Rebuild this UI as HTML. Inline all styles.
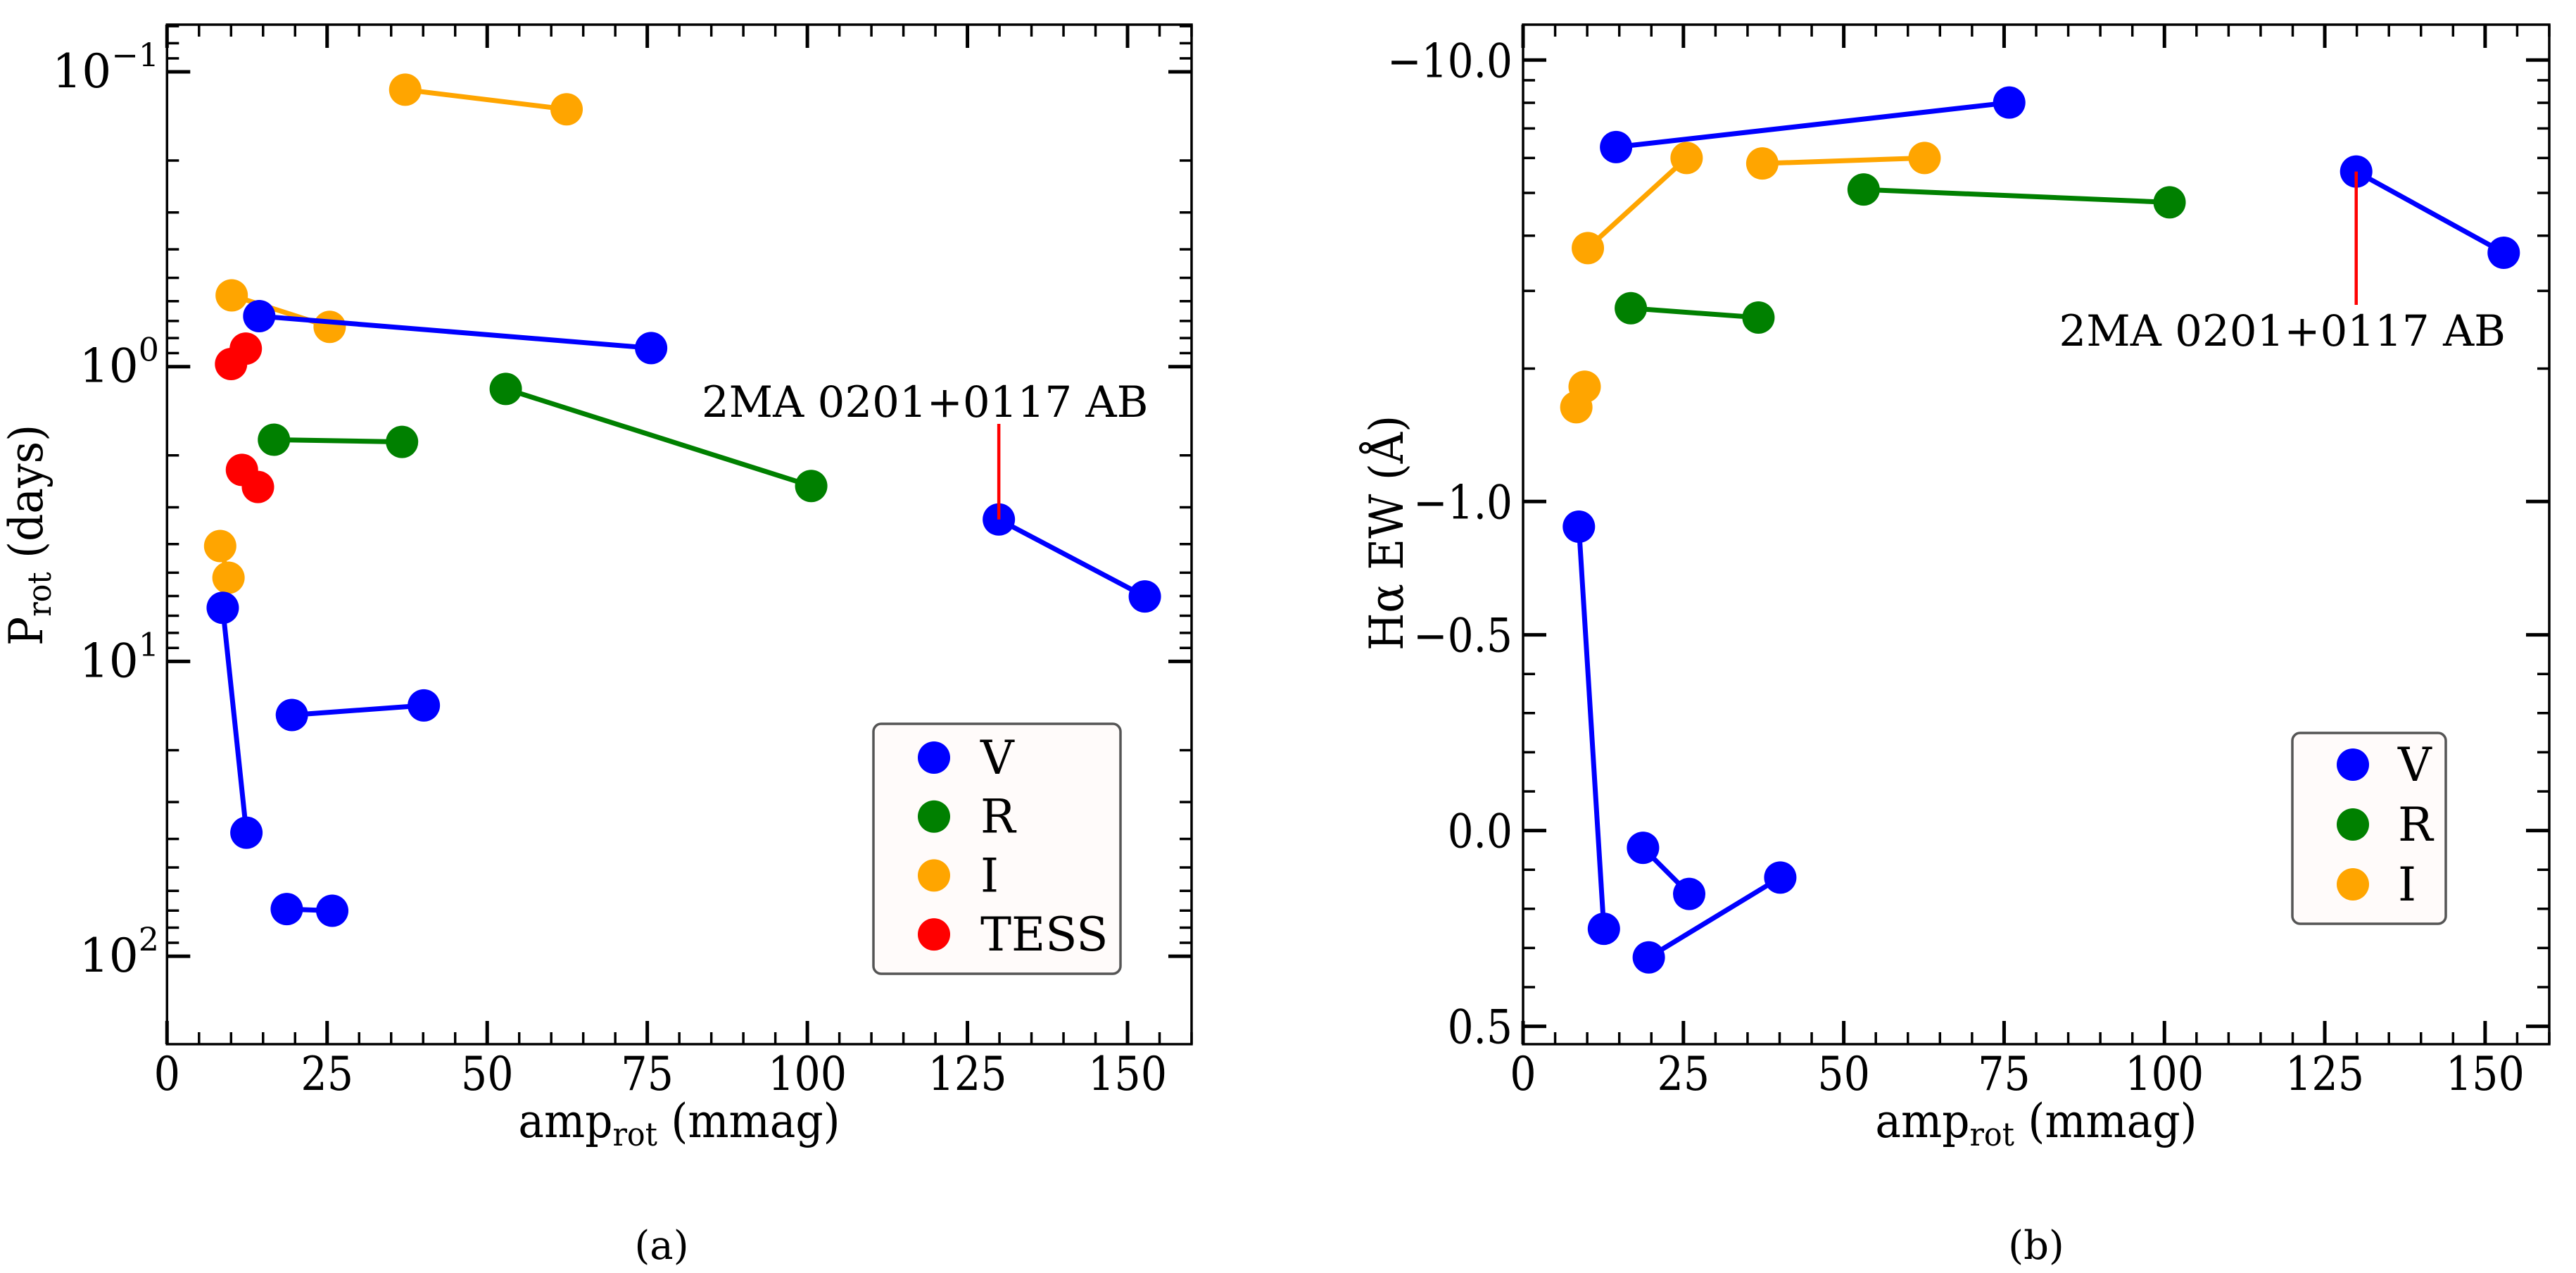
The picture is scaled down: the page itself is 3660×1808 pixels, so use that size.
<!DOCTYPE html>
<html><head><meta charset="utf-8"><title>Prot and Halpha EW vs amplitude</title>
<style>
html,body{margin:0;padding:0;background:#fff;}
svg{display:block;font-family:"DejaVu Serif","Liberation Serif",serif;}
</style></head>
<body>
<svg id="fig" width="3660" height="1808" viewBox="0 0 3660 1808" xmlns="http://www.w3.org/2000/svg"></svg>
<script>
// ---- Panel (a) data: amplitude pairs (mmag) and rotation period pairs (days)
const aBands = ['I','I','V','TESS','R','R','TESS','V','I','V','V','V'];
const aAmpStart = [37.2, 10.1, 14.4, 10.0, 52.9, 16.7, 11.7, 129.9, 8.3, 8.7, 19.5, 18.7];
const aAmpEnd   = [62.4, 25.4, 75.6, 12.3, 100.6, 36.7, 14.2, 152.7, 9.6, 12.4, 40.1, 25.8];
const aPStart   = [0.115, 0.573, 0.674, 0.98, 1.19, 1.77, 2.24, 3.30, 4.06, 6.58, 15.2, 69.2];
const aPEnd     = [0.134, 0.733, 0.865, 0.869, 2.54, 1.80, 2.56, 6.02, 5.2, 38.1, 14.1, 70.1];
const aYTickExp = [-1, 0, 1, 2];
const aLegend = ['V','R','I','TESS'];
// ---- Panel (b) data: amplitude pairs (mmag) and Halpha EW pairs (Angstrom)
const bBands = ['V','I','I','R','V','R','I','V','V','V'];
const bAmpStart = [14.5, 10.1, 37.3, 53.1, 129.9, 16.8, 9.6, 8.7, 18.7, 19.6];
const bAmpEnd   = [75.8, 25.5, 62.6, 100.8, 152.9, 36.7, 8.3, 12.6, 25.9, 40.1];
const bEwStart  = [-6.35, -3.75, -5.83, -5.09, -5.59, -2.74, -1.82, -0.877, 0.044, 0.324];
const bEwEnd    = [-8.01, -6.0, -6.0, -4.76, -3.66, -2.61, -1.635, 0.251, 0.162, 0.120];
const bYTicks = [-10.0, -1.0, -0.5, 0.0, 0.5];
const bLegend = ['V','R','I'];
const xTicks = [0, 25, 50, 75, 100, 125, 150];
const annotName = '2MA 0201+0117 AB';
const annotAmp = 129.9;

const colors = {V:'#0000ff', R:'#008000', I:'#ffa500', TESS:'#ff0000'};
const NS = 'http://www.w3.org/2000/svg';
const svg = document.getElementById('fig');
function mk(tag, attrs, parent){
  const e = document.createElementNS(NS, tag);
  for (const k in attrs) e.setAttribute(k, attrs[k]);
  (parent||svg).appendChild(e);
  return e;
}
function condense(t, f){
  const w = t.getComputedTextLength();
  if (w > 0){ t.setAttribute('textLength', (w*f).toFixed(1)); t.setAttribute('lengthAdjust','spacingAndGlyphs'); }
}
const TOP = 35, BOT = 1483;
const axA = {x0:237.3, x1:1693, xmin:0, xmax:160};
const axB = {x0:2164, x1:3622, xmin:0, xmax:160};
function xA(v){ return axA.x0 + (v-axA.xmin)/(axA.xmax-axA.xmin)*(axA.x1-axA.x0); }
function xB(v){ return axB.x0 + (v-axB.xmin)/(axB.xmax-axB.xmin)*(axB.x1-axB.x0); }
function yA(p){ return 102 + (Math.log10(p)+1)*418.7; }
function yB(v){
  if (v >= -0.5) return 1179.6 + v*556;
  return 901 - 627*Math.log10(-v/0.5);
}
function frame(g, x0, x1){
  mk('rect',{x:x0,y:TOP,width:x1-x0,height:BOT-TOP,fill:'none',stroke:'#000','stroke-width':3.5},g);
}
function tick(g, x1,y1,x2,y2,w){ mk('line',{x1:x1,y1:y1,x2:x2,y2:y2,stroke:'#000','stroke-width':w},g); }
function xTicksDraw(g, fx){
  for (let v=0; v<=160; v+=5){
    const x = fx(v); const major = v%25===0;
    const L = major?33:17, w = major?5:3.5;
    tick(g,x,BOT,x,BOT-L,w); tick(g,x,TOP,x,TOP+L,w);
  }
  xTicks.forEach(v=>{
    const t = mk('text',{x:fx(v),y:1548,'font-size':66,'text-anchor':'middle',fill:'#000'},g);
    
    
    t.textContent = String(v);
    condense(t, 0.89);
  });
}
function series(g, bands, xs0, xs1, ys0, ys1, fx, fy){
  bands.forEach((b,i)=>{
    const s = mk('g',{},g);
    
    
    mk('line',{x1:fx(xs0[i]),y1:fy(ys0[i]),x2:fx(xs1[i]),y2:fy(ys1[i]),stroke:colors[b],'stroke-width':7},s);
    [[xs0[i],ys0[i]],[xs1[i],ys1[i]]].forEach(p=>{
      const c = mk('circle',{cx:fx(p[0]),cy:fy(p[1]),r:23,fill:colors[b]},s);
      
      
    });
  });
}
function legend(g, items, bx, by, bw, bh, mx, tx, y0, dy){
  const lg = mk('g',{},g);
  
  
  mk('rect',{x:bx,y:by,width:bw,height:bh,rx:11,fill:'#fffbfa',stroke:'#555','stroke-width':3.5},lg);
  items.forEach((it,i)=>{
    const e = mk('g',{},lg);
    
    
    mk('circle',{cx:mx,cy:y0+i*dy,r:23,fill:colors[it]},e);
    const t = mk('text',{x:tx,y:y0+i*dy+23,'font-size':66,fill:'#000'},e);
    t.textContent = it;
  });
}

// ================= Panel (a)
const gA = mk('g',{});


frame(gA, axA.x0, axA.x1);
xTicksDraw(gA, xA);
for (let d=-2; d<=2; d++){
  for (let k=1;k<=9;k++){
    const p = k*Math.pow(10,d); const y = yA(p);
    if (y<TOP+1 || y>BOT-1) continue;
    const major = k===1; const L = major?33:17, w = major?5:3.5;
    tick(gA,axA.x0,y,axA.x0+L,y,w); tick(gA,axA.x1,y,axA.x1-L,y,w);
  }
}
aYTickExp.forEach(e=>{
  const t = mk('text',{x:226,y:yA(Math.pow(10,e))+22,'font-size':66,'text-anchor':'end',fill:'#000'},gA);
  
  
  const a = mk('tspan',{},t); a.textContent='10';
  const b = mk('tspan',{'font-size':46,dy:-30},t); b.textContent = e<0 ? '\u2212'+Math.abs(e) : String(e);
});
series(gA, aBands, aAmpStart, aAmpEnd, aPStart, aPEnd, xA, yA);
(function(){
  const px = xA(annotAmp), py = yA(aPStart[7]);
  const an = mk('g',{},gA);
  
  
  mk('line',{x1:px,y1:py,x2:px,y2:602,stroke:'#ff0000','stroke-width':4.5},an);
  const t = mk('text',{x:px-105,y:592,'font-size':61,'text-anchor':'middle',fill:'#000'},an);
  t.textContent = annotName;
})();
legend(gA, aLegend, 1241, 1028, 351, 355, 1327, 1393, 1076, 83.7);
(function(){
  const t = mk('text',{x:965,y:1615,'font-size':66,'text-anchor':'middle',fill:'#000'},gA);
  
  
  const a=mk('tspan',{},t); a.textContent='amp';
  const b=mk('tspan',{'font-size':46,dy:12},t); b.textContent='rot';
  const c=mk('tspan',{dy:-12},t); c.textContent=' (mmag)';
  condense(t, 0.93);
  const y = mk('text',{x:0,y:0,'font-size':66,'text-anchor':'middle',fill:'#000',transform:'translate(60,760) rotate(-90)'},gA);
  
  
  const d=mk('tspan',{},y); d.textContent='P';
  const e=mk('tspan',{'font-size':46,dy:12},y); e.textContent='rot';
  const f=mk('tspan',{dy:-12},y); f.textContent=' (days)';
  condense(y, 0.93);
  const cap = mk('text',{x:940,y:1788,'font-size':56,'text-anchor':'middle',fill:'#000'},gA);
  
  
  cap.textContent='(a)';
})();

// ================= Panel (b)
const gB = mk('g',{});


frame(gB, axB.x0, axB.x1);
xTicksDraw(gB, xB);
(function(){
  const minor = [];
  for (let v=-0.4; v<=0.41; v+=0.1){ if (Math.abs(v)>0.01) minor.push(Math.round(v*10)/10); }
  for (let k=2;k<=9;k++) minor.push(-k);
  minor.forEach(v=>{ const y=yB(v); if(y<TOP+1||y>BOT-1) return;
    tick(gB,axB.x0,y,axB.x0+17,y,3.5); tick(gB,axB.x1,y,axB.x1-17,y,3.5); });
  bYTicks.forEach(v=>{ const y=yB(v);
    tick(gB,axB.x0,y,axB.x0+33,y,5); tick(gB,axB.x1,y,axB.x1-33,y,5);
    const t = mk('text',{x:2149,y:y+24,'font-size':66,'text-anchor':'end',fill:'#000'},gB);
    
    
    t.textContent = (v<0?'\u2212':'') + Math.abs(v).toFixed(1);
    condense(t, 0.88);
  });
})();
series(gB, bBands, bAmpStart, bAmpEnd, bEwStart, bEwEnd, xB, yB);
(function(){
  const px = xB(annotAmp), py = yB(bEwStart[4]);
  const an = mk('g',{},gB);
  
  
  mk('line',{x1:px,y1:py,x2:px,y2:433,stroke:'#ff0000','stroke-width':4.5},an);
  const t = mk('text',{x:px-105,y:491,'font-size':61,'text-anchor':'middle',fill:'#000'},an);
  t.textContent = annotName;
})();
legend(gB, bLegend, 3257, 1041, 218, 271, 3343, 3407, 1086, 85);
(function(){
  const t = mk('text',{x:2893,y:1615,'font-size':66,'text-anchor':'middle',fill:'#000'},gB);
  
  
  const a=mk('tspan',{},t); a.textContent='amp';
  const b=mk('tspan',{'font-size':46,dy:12},t); b.textContent='rot';
  const c=mk('tspan',{dy:-12},t); c.textContent=' (mmag)';
  condense(t, 0.93);
  const y = mk('text',{x:0,y:0,'font-size':66,'text-anchor':'middle',fill:'#000',transform:'translate(1993,757) rotate(-90)'},gB);
  
  
  y.textContent='H\u03b1 EW (\u00c5)';
  condense(y, 0.93);
  const cap = mk('text',{x:2893,y:1788,'font-size':56,'text-anchor':'middle',fill:'#000'},gB);
  
  
  cap.textContent='(b)';
})();
</script>
</body></html>
